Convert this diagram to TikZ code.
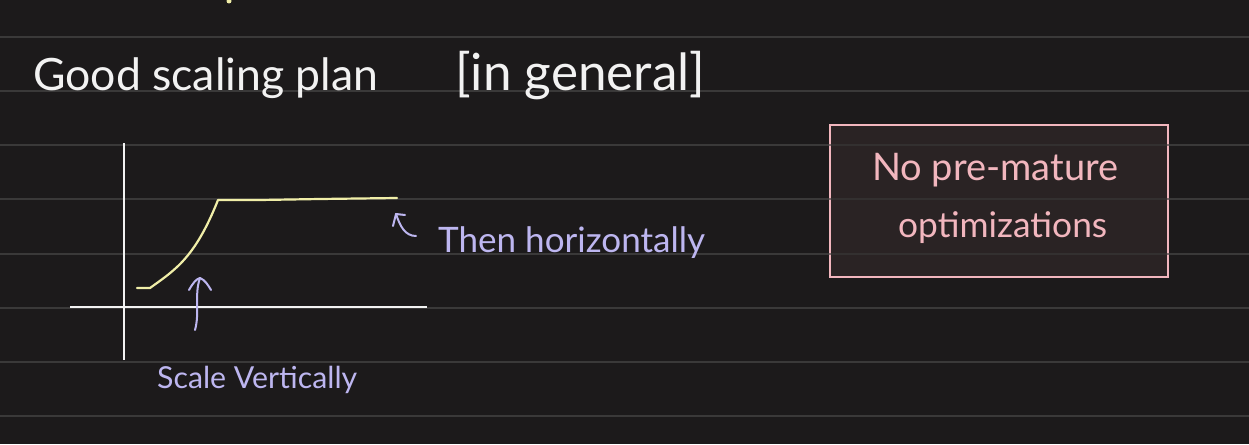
\documentclass[tikz,border=0pt]{standalone}
\usepackage{fontspec}
\usepackage{graphicx}
\setmainfont{Lato}
\usetikzlibrary{arrows.meta}
\definecolor{bg}{HTML}{1C1A1B}
\definecolor{rule}{HTML}{3A3939}
\definecolor{chalk}{HTML}{F2F2F2}
\definecolor{hl}{HTML}{F0EEA8}
\definecolor{lav}{HTML}{BDB6F0}
\definecolor{pinkc}{HTML}{F2B6BE}
\definecolor{boxfill}{HTML}{2A2324}
\tikzset{
  txt/.style={inner sep=0pt, anchor=base west},
  ruleline/.style={rule, line width=2pt},
  axis/.style={chalk, line width=2.2pt},
  pointer/.style={lav, line width=2pt, line cap=round, line join=round},
}
\begin{document}
\begin{tikzpicture}[x=1pt,y=-1pt]
\fill[bg] (0,0) rectangle (1249,444);
\useasboundingbox (0,0) rectangle (1249,444);
\foreach \y in {37,91,145,199,254,308,362,416}
  \draw[ruleline] (0,\y) -- (1249,\y);
% tiny mark at top
\fill[hl] (229,1) circle (2.5pt);
% title
\node[txt, text=chalk] (title) at (33,90) {\resizebox{345pt}{!}{\fontsize{30}{36}\selectfont Good scaling plan}};
\node[txt, text=chalk] (gen) at (455,90) {\resizebox{250pt}{!}{\fontsize{30}{36}\selectfont [in general]}};
% axes
\coordinate (ytop) at (124,143);
\coordinate (ybot) at (124,360);
\coordinate (xl) at (70,307);
\coordinate (xr) at (427,307);
\draw[axis] (ytop) -- (ybot);
\draw[axis] (xl) -- (xr);
% curve
\coordinate (c0) at (137,288);
\coordinate (c1) at (150,288);
\coordinate (c2) at (218,200);
\coordinate (c3) at (397,198);
\draw[hl, line width=2.2pt, line cap=round, line join=round]
  (c0) -- (c1) .. controls (175,270) and (195,258) .. (c2) -- (260,200) -- (320,199) -- (c3);
% pointer to vertical part
\coordinate (pv0) at (195,330);
\coordinate (pv1) at (200,278);
\draw[pointer] (pv0) .. controls (200,312) and (194,295) .. (pv1);
\draw[pointer] (189,290) .. controls (193,283) and (196,279) .. (pv1) .. controls (205,280) and (208,285) .. (211,290);
% pointer to horizontal part
\coordinate (ph0) at (416,236);
\coordinate (ph1) at (396,214);
\draw[pointer] (ph0) .. controls (405,236) and (400,226) .. (ph1);
\draw[pointer] (ph1) -- (393,226);
\draw[pointer] (ph1) -- (405,215);
% labels
\node[txt, text=lav] (sv) at (157,388) {\resizebox{200pt}{!}{\fontsize{24}{28}\selectfont Scale Vertically}};
\node[txt, text=lav] (th) at (438,252) {\resizebox{267pt}{!}{\fontsize{26}{30}\selectfont Then horizontally}};
% box
\node[draw=pinkc, fill=boxfill, line width=2pt, minimum width=338pt, minimum height=152pt, inner sep=0pt] (box) at (999,201) {};
\fill[bg] (0,0) rectangle (0,0);
\draw[rule, line width=1.5pt, opacity=0.6] (box.west |- 0,145) -- (box.east |- 0,145);
\draw[rule, line width=1.5pt, opacity=0.6] (box.west |- 0,199) -- (box.east |- 0,199);
\draw[rule, line width=1.5pt, opacity=0.6] (box.west |- 0,254) -- (box.east |- 0,254);
\node[txt, text=pinkc] (l1) at (872,180) {\resizebox{246pt}{!}{\fontsize{26}{30}\selectfont No pre-mature}};
\node[txt, text=pinkc] (l2) at (898,237) {\resizebox{209pt}{!}{\fontsize{26}{30}\selectfont optimizations}};
\end{tikzpicture}
\end{document}
